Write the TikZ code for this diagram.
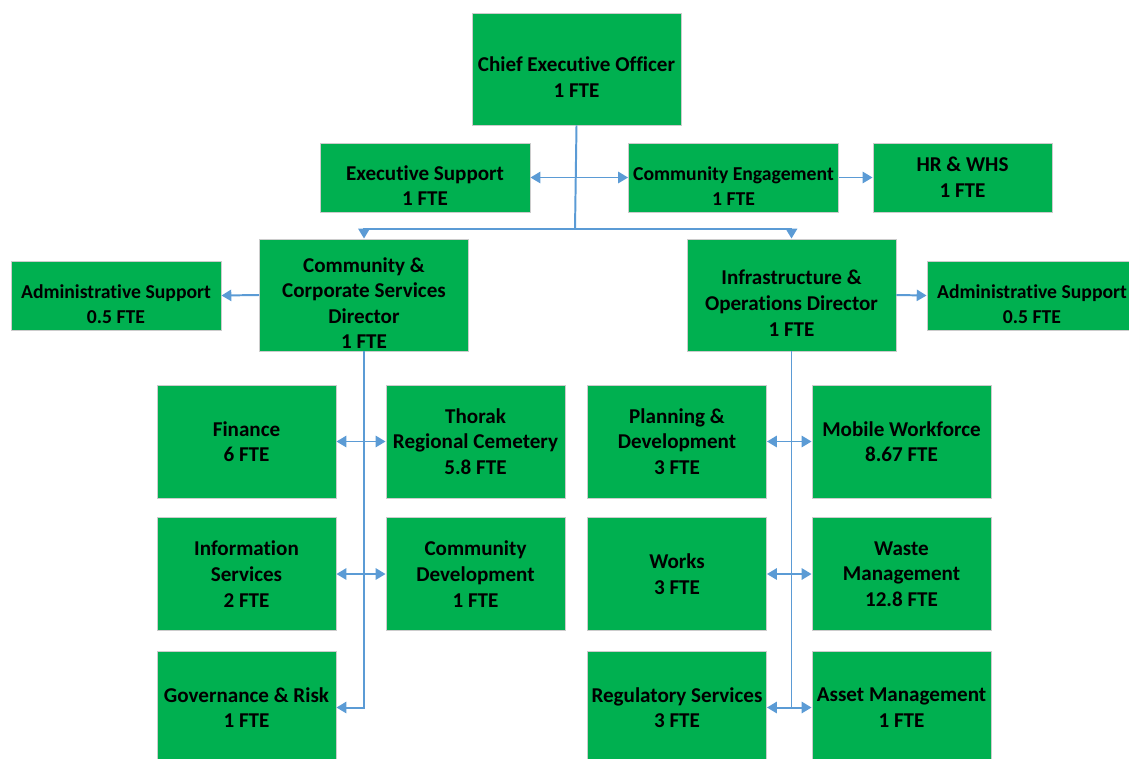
\documentclass[tikz,border=0pt]{standalone}
\usepackage{fontspec}
\setmainfont{Carlito}[Ligatures=NoCommon]
\usepackage{xcolor}
\usetikzlibrary{arrows.meta}
\definecolor{boxgreen}{HTML}{00B050}
\definecolor{linkblue}{HTML}{5B9BD5}
\newcommand{\lowtop}{\rule{0pt}{22pt}}

\begin{document}
\begin{tikzpicture}[x=0.025cm,y=-0.025cm,
  unit/.style={draw=gray!40,line width=0.6pt,fill=boxgreen,align=center,inner sep=0pt,
    font=\fontsize{15}{18.2}\selectfont\bfseries},
  snug/.style={font=\fontsize{14}{18.2}\selectfont\bfseries},
  director/.style={unit,minimum width=5.225cm,minimum height=2.8cm},
  office/.style={unit,minimum width=5.25cm,minimum height=1.725cm},
  team/.style={unit,minimum width=4.475cm,minimum height=2.825cm},
  link/.style={linkblue,line width=1.4pt},
  >={Triangle[length=7pt,width=8pt]}]
\useasboundingbox (0,0) rectangle (1129,758);
\clip (0,0) rectangle (1129,758);
% top
\node[director] (ceo) at (576.5,69) {\lowtop Chief Executive Officer\\1 FTE};
\node[office] (exec) at (425,177.5) {\lowtop Executive Support\\1 FTE};
\node[office,snug] (ce) at (733.5,177.5) {\lowtop Community Engagement\\1 FTE};
\node[office,minimum width=4.475cm] (hr) at (962.5,177.5) {HR \& WHS\\1 FTE};
% directors
\node[director] (ccs) at (364,295) {\lowtop Community \&\\Corporate Services\\Director\\1 FTE};
\node[director] (iod) at (791.5,295) {\lowtop Infrastructure \&\\Operations Director\\1 FTE};
\node[office,snug] (adml) at (116,295.5) {\lowtop Administrative Support\\0.5 FTE};
\node[office,snug] (admr) at (1032,295.5) {\lowtop Administrative Support\\0.5 FTE};
% community and corporate teams
\node[team] (fin) at (246.5,441.5) {Finance\\6 FTE};
\node[team] (thorak) at (475.5,441.5) {Thorak\\Regional Cemetery\\5.8 FTE};
\node[team] (info) at (246.5,574) {Information\\Services\\2 FTE};
\node[team] (comdev) at (475.5,574) {Community\\Development\\1 FTE};
\node[team] (gov) at (246.5,707.5) {Governance \& Risk\\1 FTE};
% infrastructure teams
\node[team] (plan) at (677,441.5) {Planning \&\\Development\\3 FTE};
\node[team] (mob) at (901.5,441.5) {Mobile Workforce\\8.67 FTE};
\node[team] (works) at (677,574) {Works\\3 FTE};
\node[team] (waste) at (901.5,574) {Waste\\Management\\12.8 FTE};
\node[team] (reg) at (677,707.5) {Regulatory Services\\3 FTE};
\node[team] (asset) at (901.5,707.5) {Asset Management\\1 FTE};
% connectors
\coordinate (split) at (575,229);
\draw[link] (ceo.south) -- (split);
\draw[link,->] (split) -| (ccs.north);
\draw[link,->] (split) -| (iod.north);
\draw[link,<->] (exec.east) -- (ce.west);
\draw[link,->] (ce.east) -- (hr.west);
\draw[link,->] (ccs.west) -- (adml.east);
\draw[link,->] (iod.east) -- (admr.west);
\draw[link,->] (ccs.south) |- (gov.east);
\draw[link,<->] (fin.east) -- (thorak.west);
\draw[link,<->] (info.east) -- (comdev.west);
\draw[link] (iod.south) -- (iod.south |- reg.east);
\draw[link,<->] (plan.east) -- (mob.west);
\draw[link,<->] (works.east) -- (waste.west);
\draw[link,<->] (reg.east) -- (asset.west);
\end{tikzpicture}
\end{document}
